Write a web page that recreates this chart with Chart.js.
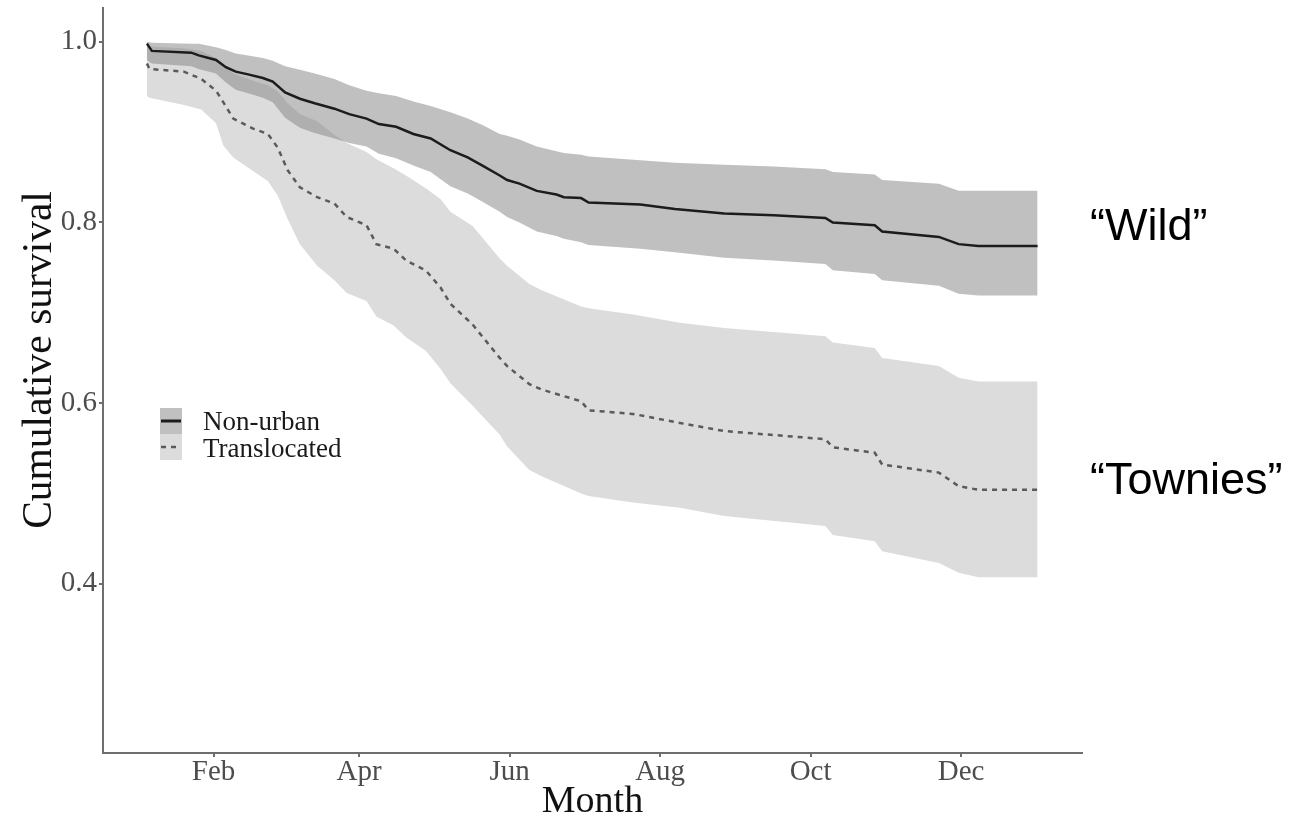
<!DOCTYPE html>
<html>
<head>
<meta charset="utf-8">
<script src="https://cdn.jsdelivr.net/npm/chart.js@4.4.1/dist/chart.umd.min.js"></script>
<style>
  html, body { margin: 0; padding: 0; background: #fff; }
  #wrap { width: 1296px; height: 825px; }
</style>
</head>
<body>
<div id="wrap"><canvas id="survival-chart"></canvas></div>
<script>
// Kaplan-Meier curves, x = day of year
const nonUrbanDays  = [4, 6, 22, 25, 32, 36, 40, 45, 51, 55, 60, 66, 72, 80, 86, 93, 98, 105, 112, 119, 127, 134, 140, 147, 150, 155, 162, 170, 173, 180, 183, 204, 218, 238, 258, 279, 282, 299, 302, 325, 333, 341, 365];
const nonUrbanSurv  = [0.998, 0.990, 0.988, 0.985, 0.980, 0.972, 0.967, 0.964, 0.960, 0.956, 0.944, 0.937, 0.932, 0.926, 0.920, 0.915, 0.909, 0.906, 0.898, 0.893, 0.880, 0.872, 0.863, 0.852, 0.847, 0.843, 0.835, 0.831, 0.828, 0.827, 0.822, 0.820, 0.815, 0.810, 0.808, 0.805, 0.800, 0.797, 0.790, 0.784, 0.776, 0.774, 0.774];
const nonUrbanUpper = [1.000, 0.999, 0.998, 0.998, 0.994, 0.991, 0.987, 0.985, 0.982, 0.979, 0.973, 0.969, 0.965, 0.959, 0.952, 0.946, 0.943, 0.940, 0.934, 0.929, 0.922, 0.915, 0.908, 0.898, 0.896, 0.892, 0.884, 0.879, 0.877, 0.875, 0.873, 0.869, 0.866, 0.864, 0.862, 0.859, 0.856, 0.853, 0.847, 0.843, 0.835, 0.835, 0.835];
const nonUrbanLower = [0.980, 0.976, 0.973, 0.970, 0.965, 0.955, 0.947, 0.943, 0.938, 0.933, 0.916, 0.905, 0.899, 0.893, 0.888, 0.884, 0.876, 0.871, 0.863, 0.856, 0.840, 0.832, 0.823, 0.812, 0.806, 0.800, 0.790, 0.785, 0.782, 0.778, 0.775, 0.771, 0.767, 0.761, 0.758, 0.754, 0.747, 0.743, 0.736, 0.730, 0.721, 0.719, 0.719];

const transDays  = [4, 5, 19, 26, 32, 35, 39, 47, 53, 57, 61, 66, 73, 80, 85, 93, 97, 104, 109, 117, 123, 127, 136, 147, 150, 159, 164, 180, 183, 201, 220, 238, 279, 282, 299, 302, 325, 333, 341, 365];
const transSurv  = [0.976, 0.970, 0.967, 0.959, 0.946, 0.933, 0.915, 0.904, 0.898, 0.883, 0.858, 0.839, 0.828, 0.821, 0.806, 0.797, 0.776, 0.771, 0.758, 0.747, 0.728, 0.710, 0.687, 0.650, 0.641, 0.621, 0.615, 0.602, 0.592, 0.588, 0.578, 0.569, 0.560, 0.551, 0.545, 0.532, 0.523, 0.508, 0.504, 0.504];
const transUpper = [0.998, 0.995, 0.993, 0.990, 0.982, 0.975, 0.965, 0.957, 0.952, 0.945, 0.932, 0.920, 0.912, 0.897, 0.888, 0.878, 0.870, 0.860, 0.852, 0.838, 0.826, 0.812, 0.796, 0.760, 0.752, 0.732, 0.725, 0.707, 0.705, 0.698, 0.689, 0.683, 0.674, 0.667, 0.661, 0.650, 0.641, 0.628, 0.624, 0.624];
const transLower = [0.940, 0.938, 0.930, 0.925, 0.910, 0.885, 0.872, 0.857, 0.846, 0.830, 0.804, 0.776, 0.752, 0.736, 0.722, 0.713, 0.696, 0.686, 0.673, 0.658, 0.638, 0.622, 0.597, 0.565, 0.552, 0.526, 0.519, 0.500, 0.497, 0.490, 0.484, 0.475, 0.464, 0.454, 0.447, 0.436, 0.423, 0.412, 0.407, 0.407];

const monthTicks = [31, 90, 151, 212, 273, 334];
const monthLabels = ['Feb', 'Apr', 'Jun', 'Aug', 'Oct', 'Dec'];
const survivalTicks = [0.4, 0.6, 0.8, 1.0];
const groupNames = ['Non-urban', 'Translocated'];
const sideLabels = ['\u201CWild\u201D', '\u201CTownies\u201D'];
const yTitle = 'Cumulative survival';

const DARK_BAND = 'rgba(130, 130, 130, 0.5)';
const LIGHT_BAND = '#dcdcdc';
const SOLID = '#1c1c1c';
const DASHED = '#5a5a5a';
const AXIS = '#6e6e6e';
const SERIF = '"Liberation Serif", "Times New Roman", serif';

const pts = (days, vals) => days.map((d, i) => ({ x: d, y: vals[i] }));

const band = (data, fill, color, order) => ({
    data, fill, order,
    backgroundColor: color,
    borderColor: 'rgba(0,0,0,0)',
    borderWidth: 0,
    pointRadius: 0
});

// legend inside the panel, y title, and the two labels on the right
const notes = {
    id: 'notes',
    afterDraw(chart) {
        const { ctx, chartArea: ca, scales } = chart;
        ctx.save();

        const kx = ca.left + 57, ky = ca.top + 400, kw = 22, kh = 26;
        ctx.fillStyle = '#ffffff';
        ctx.fillRect(kx, ky, kw, kh * 2);
        ctx.fillStyle = DARK_BAND;
        ctx.fillRect(kx, ky, kw, kh);
        ctx.fillStyle = LIGHT_BAND;
        ctx.fillRect(kx, ky + kh, kw, kh);

        ctx.lineWidth = 3;
        ctx.strokeStyle = SOLID;
        ctx.beginPath();
        ctx.moveTo(kx + 1, ky + kh / 2);
        ctx.lineTo(kx + kw - 1, ky + kh / 2);
        ctx.stroke();
        ctx.strokeStyle = DASHED;
        ctx.lineWidth = 2.5;
        ctx.setLineDash([5, 5]);
        ctx.beginPath();
        ctx.moveTo(kx + 1, ky + kh * 1.5);
        ctx.lineTo(kx + kw - 1, ky + kh * 1.5);
        ctx.stroke();
        ctx.setLineDash([]);

        ctx.fillStyle = '#1a1a1a';
        ctx.font = '27px ' + SERIF;
        ctx.textBaseline = 'alphabetic';
        ctx.textAlign = 'left';
        ctx.fillText(groupNames[0], kx + 43, ky + 22);
        ctx.fillText(groupNames[1], kx + 43, ky + 49);

        ctx.fillStyle = '#000';
        ctx.font = '45px "Liberation Sans", Arial, sans-serif';
        const y = scales.y;
        ctx.fillText(sideLabels[0], ca.right + 8, y.getPixelForValue(nonUrbanSurv[nonUrbanSurv.length - 1]) - 6);
        ctx.fillText(sideLabels[1], ca.right + 8, y.getPixelForValue(transSurv[transSurv.length - 1]) + 4);

        // y title sits a bit above the panel centre in the original
        ctx.translate(ca.left - 52, ca.top + 352);
        ctx.rotate(-Math.PI / 2);
        ctx.textAlign = 'center';
        ctx.fillStyle = '#111';
        ctx.font = '41.5px ' + SERIF;
        ctx.fillText(yTitle, 0, 0);
        ctx.restore();
    }
};

const ctx = document.getElementById('survival-chart').getContext('2d');
new Chart(ctx, {
    type: 'line',
    data: {
        datasets: [
            { data: pts(nonUrbanDays, nonUrbanSurv), borderColor: SOLID, borderWidth: 2.5, pointRadius: 0, fill: false, order: 1 },
            { data: pts(transDays, transSurv), borderColor: DASHED, borderWidth: 2.5, borderDash: [5, 5], pointRadius: 0, fill: false, order: 1 },
            band(pts(nonUrbanDays, nonUrbanUpper), 3, DARK_BAND, 2),
            band(pts(nonUrbanDays, nonUrbanLower), false, DARK_BAND, 2),
            band(pts(transDays, transUpper), 5, LIGHT_BAND, 3),
            band(pts(transDays, transLower), false, LIGHT_BAND, 3)
        ]
    },
    options: {
        responsive: true,
        maintainAspectRatio: false,
        animation: false,
        events: [],
        layout: { padding: { top: 8, right: 214, left: 0, bottom: 0 } },
        plugins: { legend: { display: false }, tooltip: { enabled: false } },
        scales: {
            x: {
                type: 'linear',
                min: -13.8,
                max: 383,
                afterFit: s => { s.height = 72; s.paddingLeft = 0; s.paddingRight = 0; },
                afterBuildTicks: s => { s.ticks = monthTicks.map(v => ({ value: v })); },
                grid: { drawOnChartArea: false, drawTicks: true, tickLength: 4, color: AXIS, lineWidth: 2 },
                border: { display: true, color: AXIS, width: 2 },
                ticks: {
                    autoSkip: false, maxRotation: 0, padding: 1,
                    color: '#4d4d4d',
                    font: { family: SERIF, size: 29, lineHeight: 1 },
                    callback: (v, i) => monthLabels[i]
                },
                title: { display: true, text: 'Month', color: '#111', padding: { top: 0, bottom: 0 }, font: { family: SERIF, size: 38 } }
            },
            y: {
                min: 0.2125,
                max: 1.0375,
                afterFit: s => { s.width = 103; s.paddingTop = 0; s.paddingBottom = 0; },
                afterBuildTicks: s => { s.ticks = survivalTicks.map(v => ({ value: v })); },
                grid: { drawOnChartArea: false, drawTicks: true, tickLength: 4, color: AXIS, lineWidth: 2 },
                border: { display: true, color: AXIS, width: 2 },
                ticks: {
                    padding: 2,
                    color: '#4d4d4d',
                    font: { family: SERIF, size: 29 },
                    callback: v => v.toFixed(1)
                },
                title: { display: false }
            }
        }
    },
    plugins: [notes]
});
</script>
</body>
</html>
